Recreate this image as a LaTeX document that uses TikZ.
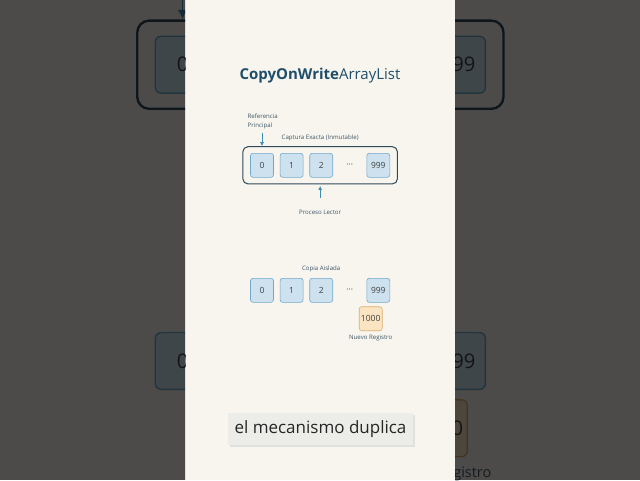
\documentclass[tikz,border=0pt]{standalone}
\usepackage{fontspec}
\setmainfont{Open Sans}
\usetikzlibrary{arrows.meta}
\usetikzlibrary{positioning}
\usetikzlibrary{fit}

\definecolor{paper}{HTML}{F7F5EE}
\definecolor{ink}{HTML}{1F4E6B}
\definecolor{cellfill}{HTML}{CDE2EE}
\definecolor{celledge}{HTML}{70A8C8}
\definecolor{framecol}{HTML}{2E4A5B}
\definecolor{arrowcol}{HTML}{3F8DB3}
\definecolor{newfill}{HTML}{FBE4C2}
\definecolor{newedge}{HTML}{DDAE6E}
\definecolor{labelcol}{HTML}{3E5566}
\definecolor{capfill}{HTML}{ECECE8}

\tikzset{
    heading/.style={font=\fontsize{15}{18}\selectfont, text=ink, inner sep=0pt},
    cell/.style={draw=celledge, fill=cellfill, rounded corners=2.5pt, line width=0.6pt,
        minimum width=23pt, minimum height=24pt, inner sep=0pt,
        font=\fontsize{8.5}{10}\selectfont, text=black!75},
    newcell/.style={cell, draw=newedge, fill=newfill},
    frame/.style={draw=framecol, rounded corners=5pt, line width=1pt, inner sep=7pt},
    tag/.style={font=\fontsize{6.1}{9}\selectfont, text=labelcol, inner sep=0pt},
    pointer/.style={draw=arrowcol, line width=0.8pt, -{Latex[length=4pt,width=4pt]}},
}

% the array diagram, drawn once in the panel and once blown up behind it
\newcommand\snapshotscene{%
    \node[heading] (title) at (320,76) {\textbf{CopyOnWrite}ArrayList};

    % captured array
    \node[cell] (a0) at (262,165.3) {0};
    \node[cell, right=6pt of a0] (a1) {1};
    \node[cell, right=6pt of a1] (a2) {2};
    \node[cell, right=33.5pt of a2] (a999) {999};
    \path (a2) -- node[font=\fontsize{8.5}{10}\selectfont, text=black!70, inner sep=0pt] (adots) {···} (a999);
    \node[frame, fit=(a0)(a999), inner xsep=7.3pt, inner ysep=6.3pt] (snap) {};

    \node[tag, above=5pt of snap] (snaplabel) {Captura Exacta (Inmutable)};
    \node[tag, align=left, anchor=south west] (mainref) at (247.5,129.5) {Referencia\\Principal};
    \node[tag, below=26pt of snap] (reader) {Proceso Lector};

    \draw[pointer] (mainref.south -| a0) ++(0,3) -- (snap.north -| a0);
    \draw[pointer, shorten <=12pt, shorten >=1.5pt] (reader.north) -- (snap.south);

    % isolated copy
    \node[cell] (b0) at (262,290.3) {0};
    \node[cell, right=6pt of b0] (b1) {1};
    \node[cell, right=6pt of b1] (b2) {2};
    \node[cell, right=33.5pt of b2] (b999) {999};
    \path (b2) -- node[font=\fontsize{8.5}{10}\selectfont, text=black!70, inner sep=0pt] (bdots) {···} (b999);
    \node[tag, above=6pt of b2] (copylabel) {Copia Aislada};

    \node[newcell] (b1000) at (370.7,318.7) {1000};
    \node[tag, below=4pt of b1000] (newlabel) {Nuevo Registro};
}

\begin{document}
\begin{tikzpicture}[x=1pt, y=-1pt]
    \useasboundingbox (0,0) rectangle (640,480);
    \fill[paper] (0,0) rectangle (640,480);

    % blown-up copy on both sides
    \begin{scope}
        \clip (0,0) rectangle (185,480) (455,0) rectangle (640,480);
        \begin{scope}[transform canvas={shift={(-438.4,-327.05)}, scale=2.37}]
            \snapshotscene
        \end{scope}
        \fill[black, opacity=0.69] (0,0) rectangle (640,480);
    \end{scope}

    \snapshotscene

    % subtitle
    \fill[black!12] (229.5,415) rectangle (414.5,446.5);
    \node[fill=capfill, minimum width=185pt, minimum height=32pt, inner sep=0pt,
        font=\fontsize{17}{20}\selectfont, text=black!85] (subtitle) at (320.5,429) {el mecanismo duplica};
\end{tikzpicture}
\end{document}
